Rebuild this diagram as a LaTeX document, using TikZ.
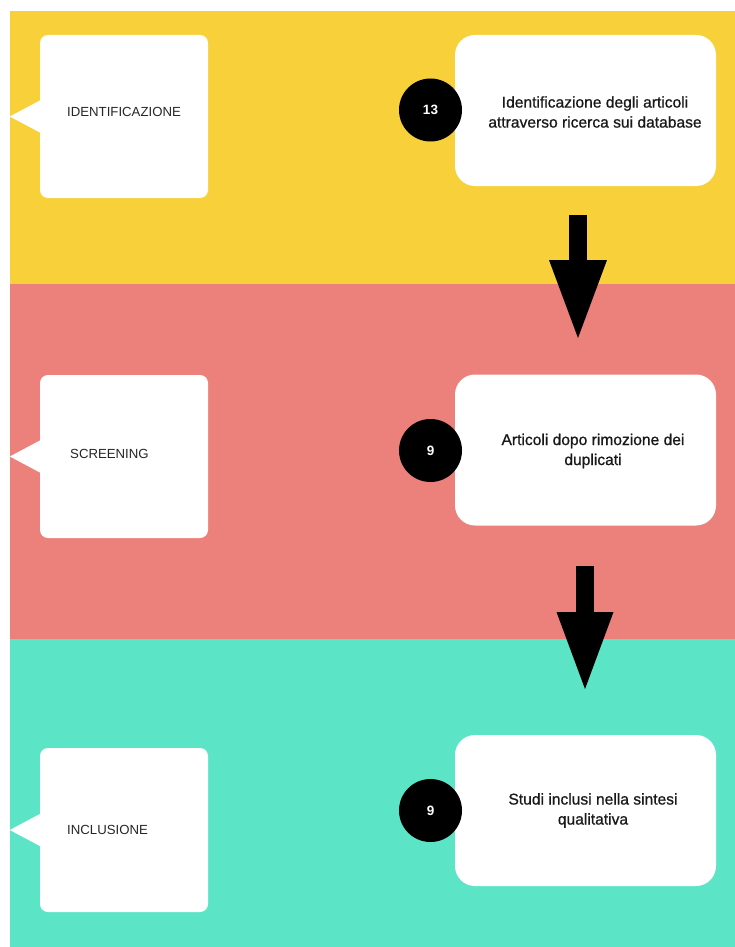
\documentclass[tikz,border=0pt]{standalone}
\usepackage{fontspec}
\setmainfont{Liberation Sans}
\newfontfamily\medfont[FakeBold=0.8]{Liberation Sans}
\usetikzlibrary{arrows.meta}
\definecolor{bandyellow}{HTML}{F8D13A}
\definecolor{bandred}{HTML}{EC807A}
\definecolor{bandteal}{HTML}{5CE4C7}
\begin{document}
\begin{tikzpicture}[x=1pt,y=-1pt,
  leftbox/.style={fill=white, rounded corners=8pt, minimum width=168pt, inner sep=0pt},
  rightbox/.style={fill=white, rounded corners=20pt, minimum width=261pt, minimum height=151pt, inner sep=0pt},
  countnode/.style={circle, fill=black, minimum size=63pt, inner sep=0pt, text=white, font=\fontsize{13.5}{15}\selectfont\bfseries},
  stage/.style={anchor=west, inner sep=0pt, text=black!85, font=\fontsize{13.2}{15}\selectfont},
  desc/.style={align=center, inner sep=0pt, text=black!90, font=\medfont\fontsize{15.6}{20}\selectfont},
  pointer/.style={fill=white},
  flow/.style={line width=18pt, draw=black}]
\useasboundingbox (0,0) rectangle (735,947);
% bands
\fill[bandyellow] (10,11) rectangle (735,284);
\fill[bandred] (10,284) rectangle (735,639);
\fill[bandteal] (10,639) rectangle (735,947);
% left callout boxes
\node[leftbox, minimum height=163pt] (lb1) at (124,116.5) {};
\node[leftbox, minimum height=163pt] (lb2) at (124,456.5) {};
\node[leftbox, minimum height=164pt] (lb3) at (124,830) {};
\foreach \b in {lb1,lb2,lb3}{
  \fill[pointer] ([xshift=1pt]\b.west) ++(0,-16.5) -- ++(-31,16.5) -- ++(31,16.5) -- cycle;
}
\node[stage] (st1) at (67,112) {IDENTIFICAZIONE};
\node[stage] (st2) at (70,454) {SCREENING};
\node[stage] (st3) at (67,830) {INCLUSIONE};
% right boxes
\node[rightbox] (rb1) at (585.5,110.5) {};
\node[rightbox] (rb2) at (585.5,450) {};
\node[rightbox] (rb3) at (585.5,810.5) {};
\node[desc] (d1) at (595,112) {Identificazione degli articoli\\attraverso ricerca sui database};
\node[desc] (d2) at (593,451) {Articoli dopo rimozione dei\\duplicati};
\node[desc] (d3) at (593,810.5) {Studi inclusi nella sintesi\\qualitativa};
% counts
\node[countnode] (c1) at (430.5,110) {13};
\node[countnode] (c2) at (430.5,450.5) {9};
\node[countnode] (c3) at (430.5,810.5) {9};
% arrows
\coordinate (a1s) at (578,215);
\coordinate (a1e) at (578,338);
\coordinate (a2s) at (585,566);
\coordinate (a2e) at (585,689);
\draw[flow, -{Triangle[width=58pt,length=78pt,line width=0pt]}] (a1s) -- (a1e);
\draw[flow, -{Triangle[width=57pt,length=77pt,line width=0pt]}] (a2s) -- (a2e);
\end{tikzpicture}
\end{document}
